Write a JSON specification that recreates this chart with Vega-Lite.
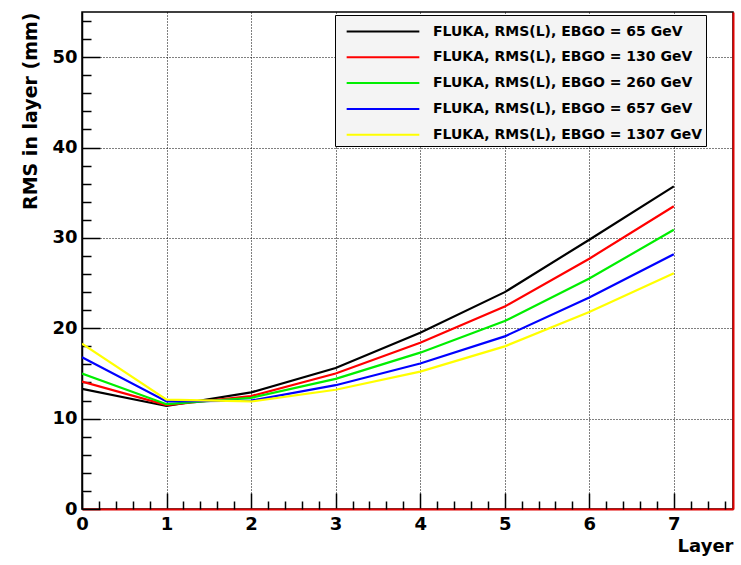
{
  "$schema": "https://vega.github.io/schema/vega-lite/v6.json",
  "width": 651,
  "height": 497,
  "autosize": {"type": "none"},
  "padding": {"left": 82, "top": 12, "right": 8, "bottom": 56},
  "background": "white",
  "config": {
    "view": {"stroke": "black", "strokeWidth": 1.5},
    "font": "DejaVu Sans",
    "axis": {"labelFont": "DejaVu Sans", "titleFont": "DejaVu Sans", "labelFontWeight": "bold", "titleFontWeight": "bold", "labelColor": "black", "titleColor": "black", "tickColor": "black", "domainColor": "black"}
  },
  "data": {"values": [
    {"layer": 0, "rms": 13.3, "series": "FLUKA, RMS(L), EBGO = 65 GeV"},
    {"layer": 1, "rms": 11.4, "series": "FLUKA, RMS(L), EBGO = 65 GeV"},
    {"layer": 2, "rms": 12.9, "series": "FLUKA, RMS(L), EBGO = 65 GeV"},
    {"layer": 3, "rms": 15.6, "series": "FLUKA, RMS(L), EBGO = 65 GeV"},
    {"layer": 4, "rms": 19.5, "series": "FLUKA, RMS(L), EBGO = 65 GeV"},
    {"layer": 5, "rms": 24.0, "series": "FLUKA, RMS(L), EBGO = 65 GeV"},
    {"layer": 6, "rms": 29.8, "series": "FLUKA, RMS(L), EBGO = 65 GeV"},
    {"layer": 7, "rms": 35.7, "series": "FLUKA, RMS(L), EBGO = 65 GeV"},
    {"layer": 0, "rms": 14.1, "series": "FLUKA, RMS(L), EBGO = 130 GeV"},
    {"layer": 1, "rms": 11.5, "series": "FLUKA, RMS(L), EBGO = 130 GeV"},
    {"layer": 2, "rms": 12.5, "series": "FLUKA, RMS(L), EBGO = 130 GeV"},
    {"layer": 3, "rms": 15.0, "series": "FLUKA, RMS(L), EBGO = 130 GeV"},
    {"layer": 4, "rms": 18.4, "series": "FLUKA, RMS(L), EBGO = 130 GeV"},
    {"layer": 5, "rms": 22.4, "series": "FLUKA, RMS(L), EBGO = 130 GeV"},
    {"layer": 6, "rms": 27.7, "series": "FLUKA, RMS(L), EBGO = 130 GeV"},
    {"layer": 7, "rms": 33.5, "series": "FLUKA, RMS(L), EBGO = 130 GeV"},
    {"layer": 0, "rms": 15.0, "series": "FLUKA, RMS(L), EBGO = 260 GeV"},
    {"layer": 1, "rms": 11.6, "series": "FLUKA, RMS(L), EBGO = 260 GeV"},
    {"layer": 2, "rms": 12.3, "series": "FLUKA, RMS(L), EBGO = 260 GeV"},
    {"layer": 3, "rms": 14.4, "series": "FLUKA, RMS(L), EBGO = 260 GeV"},
    {"layer": 4, "rms": 17.3, "series": "FLUKA, RMS(L), EBGO = 260 GeV"},
    {"layer": 5, "rms": 20.8, "series": "FLUKA, RMS(L), EBGO = 260 GeV"},
    {"layer": 6, "rms": 25.5, "series": "FLUKA, RMS(L), EBGO = 260 GeV"},
    {"layer": 7, "rms": 30.9, "series": "FLUKA, RMS(L), EBGO = 260 GeV"},
    {"layer": 0, "rms": 16.8, "series": "FLUKA, RMS(L), EBGO = 657 GeV"},
    {"layer": 1, "rms": 11.9, "series": "FLUKA, RMS(L), EBGO = 657 GeV"},
    {"layer": 2, "rms": 12.0, "series": "FLUKA, RMS(L), EBGO = 657 GeV"},
    {"layer": 3, "rms": 13.7, "series": "FLUKA, RMS(L), EBGO = 657 GeV"},
    {"layer": 4, "rms": 16.1, "series": "FLUKA, RMS(L), EBGO = 657 GeV"},
    {"layer": 5, "rms": 19.1, "series": "FLUKA, RMS(L), EBGO = 657 GeV"},
    {"layer": 6, "rms": 23.4, "series": "FLUKA, RMS(L), EBGO = 657 GeV"},
    {"layer": 7, "rms": 28.2, "series": "FLUKA, RMS(L), EBGO = 657 GeV"},
    {"layer": 0, "rms": 18.3, "series": "FLUKA, RMS(L), EBGO = 1307 GeV"},
    {"layer": 1, "rms": 12.1, "series": "FLUKA, RMS(L), EBGO = 1307 GeV"},
    {"layer": 2, "rms": 11.9, "series": "FLUKA, RMS(L), EBGO = 1307 GeV"},
    {"layer": 3, "rms": 13.2, "series": "FLUKA, RMS(L), EBGO = 1307 GeV"},
    {"layer": 4, "rms": 15.2, "series": "FLUKA, RMS(L), EBGO = 1307 GeV"},
    {"layer": 5, "rms": 18.0, "series": "FLUKA, RMS(L), EBGO = 1307 GeV"},
    {"layer": 6, "rms": 21.8, "series": "FLUKA, RMS(L), EBGO = 1307 GeV"},
    {"layer": 7, "rms": 26.1, "series": "FLUKA, RMS(L), EBGO = 1307 GeV"}
  ]},
  "layer": [
    {
      "mark": {"type": "line", "strokeWidth": 2.2, "clip": true},
      "encoding": {
        "x": {"field": "layer", "type": "quantitative",
          "scale": {"domain": [0, 7.7], "nice": false, "zero": false},
          "axis": {"orient": "bottom", "values": [0,1,2,3,4,5,6,7], "format": "d", "tickSize": -16, "tickWidth": 1.5, "labelPadding": 22, "labelFontSize": 18, "labelFlush": false, "labelOverlap": false,
            "domainColor": "#e00000", "domainWidth": 2, "grid": true, "gridColor": "black", "gridDash": [1, 2], "gridWidth": 1,
            "title": "Layer", "titleFontSize": 18, "titleAnchor": "end", "titleAlign": "right", "titlePadding": 4}},
        "y": {"field": "rms", "type": "quantitative",
          "scale": {"domain": [0, 55], "nice": false},
          "axis": {"orient": "left", "values": [0,10,20,30,40,50], "tickSize": -18, "tickWidth": 1.5, "labelPadding": 23, "labelFontSize": 18, "labelFlush": false,
            "domainWidth": 1.5, "grid": true, "gridColor": "black", "gridDash": [1, 2], "gridWidth": 1,
            "title": "RMS in layer (mm)", "titleFontSize": 19, "titleAnchor": "end", "titlePadding": 11}},
        "color": {"field": "series", "type": "nominal",
          "scale": {"domain": ["FLUKA, RMS(L), EBGO = 65 GeV", "FLUKA, RMS(L), EBGO = 130 GeV", "FLUKA, RMS(L), EBGO = 260 GeV", "FLUKA, RMS(L), EBGO = 657 GeV", "FLUKA, RMS(L), EBGO = 1307 GeV"],
                    "range": ["#000000", "#ff0000", "#00ee00", "#0000ff", "#ffff00"]},
          "legend": {"orient": "none", "legendX": 253, "legendY": 3, "title": null,
            "fillColor": "#f4f4f4", "strokeColor": "black", "padding": 4,
            "symbolType": "M-3.16,0L3.16,0", "symbolSize": 529, "symbolStrokeWidth": 2, "symbolOffset": 31.5, "labelOffset": 37.5,
            "labelFont": "DejaVu Sans", "labelFontWeight": "bold", "labelFontSize": 14, "labelColor": "black", "labelLimit": 400, "rowPadding": 5.8}}
      }
    },
    {
      "mark": {"type": "point", "opacity": 0},
      "encoding": {
        "x": {"field": "layer", "type": "quantitative",
          "axis": {"orient": "bottom", "values": [0.2,0.4,0.6,0.8,1.2,1.4,1.6,1.8,2.2,2.4,2.6,2.8,3.2,3.4,3.6,3.8,4.2,4.4,4.6,4.8,5.2,5.4,5.6,5.8,6.2,6.4,6.6,6.8,7.2,7.4,7.6], "tickSize": -8, "tickWidth": 1.5, "labels": false, "domain": false, "grid": false, "title": null}},
        "y": {"field": "rms", "type": "quantitative",
          "axis": {"orient": "left", "values": [2,4,6,8,12,14,16,18,22,24,26,28,32,34,36,38,42,44,46,48,52,54], "tickSize": -9, "tickWidth": 1.5, "labels": false, "domain": false, "grid": false, "title": null}}
      }
    },
    {
      "mark": {"type": "point", "opacity": 0},
      "encoding": {
        "y": {"field": "rms", "type": "quantitative",
          "axis": {"orient": "right", "ticks": false, "labels": false, "domainColor": "#e00000", "domainWidth": 2, "grid": false, "title": null}}
      }
    }
  ],
  "resolve": {"axis": {"x": "independent", "y": "independent"}}
}
